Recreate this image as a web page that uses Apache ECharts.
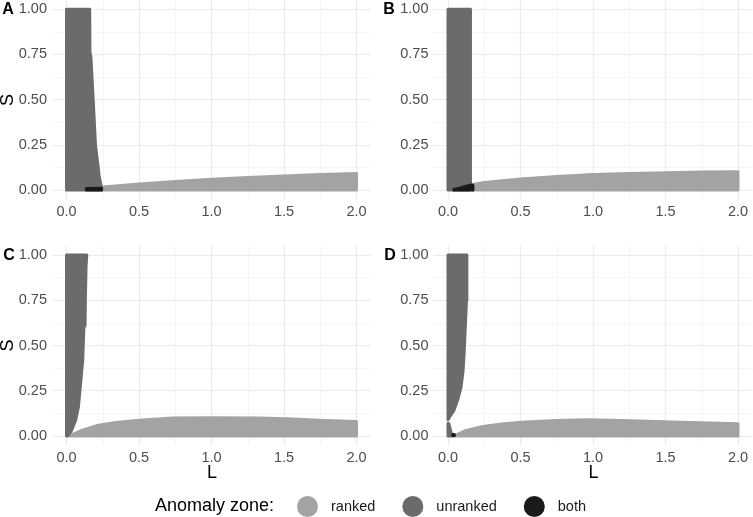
<!DOCTYPE html>
<html><head><meta charset="utf-8">
<script src="https://cdn.jsdelivr.net/npm/echarts@6/dist/echarts.min.js"></script>
<style>html,body{margin:0;padding:0;background:#fff}#c{width:753px;height:517px}</style>
</head><body><div id="c"></div>
<script>
// ---- tick labels / categories ----
const xTicks = [0, 0.5, 1, 1.5, 2];
const xMinor = [0.25, 0.75, 1.25, 1.75];
const yTicks = [0, 0.25, 0.5, 0.75, 1];
const yMinor = [0.125, 0.375, 0.625, 0.875];
const panelLabels = ['A', 'B', 'C', 'D'];
const zoneNames = ['ranked', 'unranked', 'both'];
const zoneColors = ['#a3a3a3', '#6b6b6b', '#1a1a1a'];

// ---- region outlines [L, S] ----
const rankedA = [[0.25,0],[0.25,0.016],[0.5,0.033],[0.75,0.047],[1.0,0.059],[1.25,0.069],[1.5,0.078],[1.75,0.085],[2.0,0.091],[2.0,0]];
const unrankedA = [[0,0],[0,1],[0.16,1],[0.162,0.76],[0.168,0.74],[0.184,0.5],[0.2,0.25],[0.225,0.08],[0.237,0.03],[0.242,0]];
const bothA = [[0.137,0],[0.137,0.008],[0.242,0.01],[0.242,0]];

const rankedB = [[0.17,0],[0.17,0.03],[0.25,0.041],[0.5,0.061],[0.75,0.074],[1.0,0.085],[1.25,0.091],[1.5,0.096],[1.75,0.099],[2.0,0.101],[2.0,0]];
const unrankedB = [[0,0],[0,1],[0.155,1],[0.155,0.03],[0.152,0]];
const bothB = [[0.04,0],[0.04,0.003],[0.08,0.01],[0.12,0.019],[0.16,0.028],[0.172,0.026],[0.172,0]];

const rankedC = [[0.022,0],[0.03,0.004],[0.11,0.032],[0.22,0.059],[0.34,0.074],[0.5,0.087],[0.73,0.099],[1.0,0.101],[1.33,0.099],[1.56,0.094],[1.74,0.087],[2.0,0.08],[2.0,0]];
const unrankedC = [[0,0],[0,1],[0.14,1],[0.135,0.94],[0.13,0.75],[0.128,0.61],[0.12,0.6],[0.112,0.42],[0.095,0.27],[0.082,0.16],[0.064,0.09],[0.035,0.03],[0.008,0]];

const rankedD = [[0.05,0],[0.05,0.003],[0.12,0.029],[0.24,0.052],[0.37,0.066],[0.51,0.076],[0.74,0.085],[0.97,0.089],[1.2,0.086],[1.43,0.08],[1.66,0.075],[2.0,0.067],[2.0,0]];
const unrankedD1 = [[0,0.09],[0,1],[0.13,1],[0.13,0.75],[0.127,0.74],[0.117,0.56],[0.11,0.44],[0.104,0.36],[0.09,0.27],[0.067,0.2],[0.04,0.14],[0.013,0.108],[0.003,0.092]];
const unrankedD2 = [[0,0],[0,0.07],[0.006,0.068],[0.018,0.03],[0.026,0.006],[0.022,0]];
const bothD = [[0.033,0.001],[0.033,0.008],[0.043,0.008],[0.043,0.001]];

const panelRegions = [
  [[0, rankedA], [1, unrankedA], [2, bothA]],
  [[0, rankedB], [1, unrankedB], [2, bothB]],
  [[0, rankedC], [1, unrankedC]],
  [[0, rankedD], [1, unrankedD1], [1, unrankedD2], [2, bothD]]
];

const FONT = '"Liberation Sans", Arial, Helvetica, sans-serif';
const gridPos = [
  {left: 52, top: 0.3, width: 319, height: 198.7},
  {left: 433.5, top: 0.3, width: 319, height: 198.7},
  {left: 52, top: 246, width: 319, height: 199},
  {left: 433.5, top: 246, width: 319, height: 199}
];

const grids = [], xAxes = [], yAxes = [], series = [];
gridPos.forEach((g, i) => {
  grids.push(Object.assign({containLabel: false}, g));
  xAxes.push({type: 'value', gridIndex: i, min: -0.1, max: 2.1, position: 'bottom',
    axisLine: {show: false}, axisTick: {show: false, customValues: xTicks},
    axisLabel: {customValues: xTicks, formatter: v => v.toFixed(1), fontSize: 14.5, color: '#4d4d4d', fontFamily: FONT, margin: 5},
    splitLine: {show: true, lineStyle: {color: '#ebebeb', width: 1.2}}});
  xAxes.push({type: 'value', gridIndex: i, min: -0.1, max: 2.1, position: 'top',
    axisLine: {show: false}, axisTick: {show: false, customValues: xMinor},
    axisLabel: {show: false},
    splitLine: {show: true, lineStyle: {color: '#f2f2f2', width: 0.8}}});
  yAxes.push({type: 'value', gridIndex: i, min: -0.05, max: 1.05, position: 'left',
    axisLine: {show: false}, axisTick: {show: false, customValues: yTicks},
    axisLabel: {customValues: yTicks, formatter: v => v.toFixed(2), fontSize: 14.5, color: '#4d4d4d', fontFamily: FONT, margin: 5},
    splitLine: {show: true, lineStyle: {color: '#ebebeb', width: 1.2}}});
  yAxes.push({type: 'value', gridIndex: i, min: -0.05, max: 1.05, position: 'right',
    axisLine: {show: false}, axisTick: {show: false, customValues: yMinor},
    axisLabel: {show: false},
    splitLine: {show: true, lineStyle: {color: '#f2f2f2', width: 0.8}}});

  panelRegions[i].forEach(([z, poly]) => {
    const color = zoneColors[z];
    series.push({
      type: 'custom', name: zoneNames[z],
      xAxisIndex: 2 * i, yAxisIndex: 2 * i,
      itemStyle: {color: color},
      encode: {x: 0, y: 1},
      data: poly,
      silent: true,
      z: 2 + z,
      renderItem: function (params, api) {
        if (params.dataIndex !== 0) return null;
        const pts = poly.map(p => api.coord(p));
        return {type: 'polygon', shape: {points: pts},
          style: {fill: color, stroke: color, lineWidth: 3, lineJoin: 'round'}};
      }
    });
  });
});

const textStyleBase = {fontFamily: FONT};
function txt(x, y, text, size, extra) {
  return Object.assign({type: 'text', x: x, y: y,
    style: Object.assign({text: text, fontSize: size, fill: '#000', align: 'center', verticalAlign: 'middle'}, textStyleBase, extra || {})});
}
const graphics = [
  txt(155, 506.5, 'Anomaly zone:', 18, {align: 'left'}),
  txt(8, 10, panelLabels[0], 16, {fontWeight: 'bold'}),
  txt(389, 10, panelLabels[1], 16, {fontWeight: 'bold'}),
  txt(9, 256, panelLabels[2], 16, {fontWeight: 'bold'}),
  txt(390, 256, panelLabels[3], 16, {fontWeight: 'bold'}),
  Object.assign(txt(8, 100, 'S', 18), {rotation: Math.PI / 2}),
  Object.assign(txt(8, 345.5, 'S', 18), {rotation: Math.PI / 2}),
  txt(212, 473, 'L', 18),
  txt(593.5, 473, 'L', 18)
];

const chart = echarts.init(document.getElementById('c'), null, {renderer: 'canvas'});
chart.setOption({
  animation: false,
  backgroundColor: '#fff',
  grid: grids,
  xAxis: xAxes,
  yAxis: yAxes,
  legend: {
    left: 297, top: 496, orient: 'horizontal', padding: 0,
    itemWidth: 21, itemHeight: 21, itemGap: 27, icon: 'circle',
    selectedMode: false,
    data: zoneNames.map((n, k) => ({name: n, icon: 'circle', itemStyle: {color: zoneColors[k]}})),
    textStyle: {fontSize: 14.5, color: '#1a1a1a', fontFamily: FONT, padding: [0, 0, 0, 8]}
  },
  graphic: graphics,
  series: series
});
</script>
</body></html>
